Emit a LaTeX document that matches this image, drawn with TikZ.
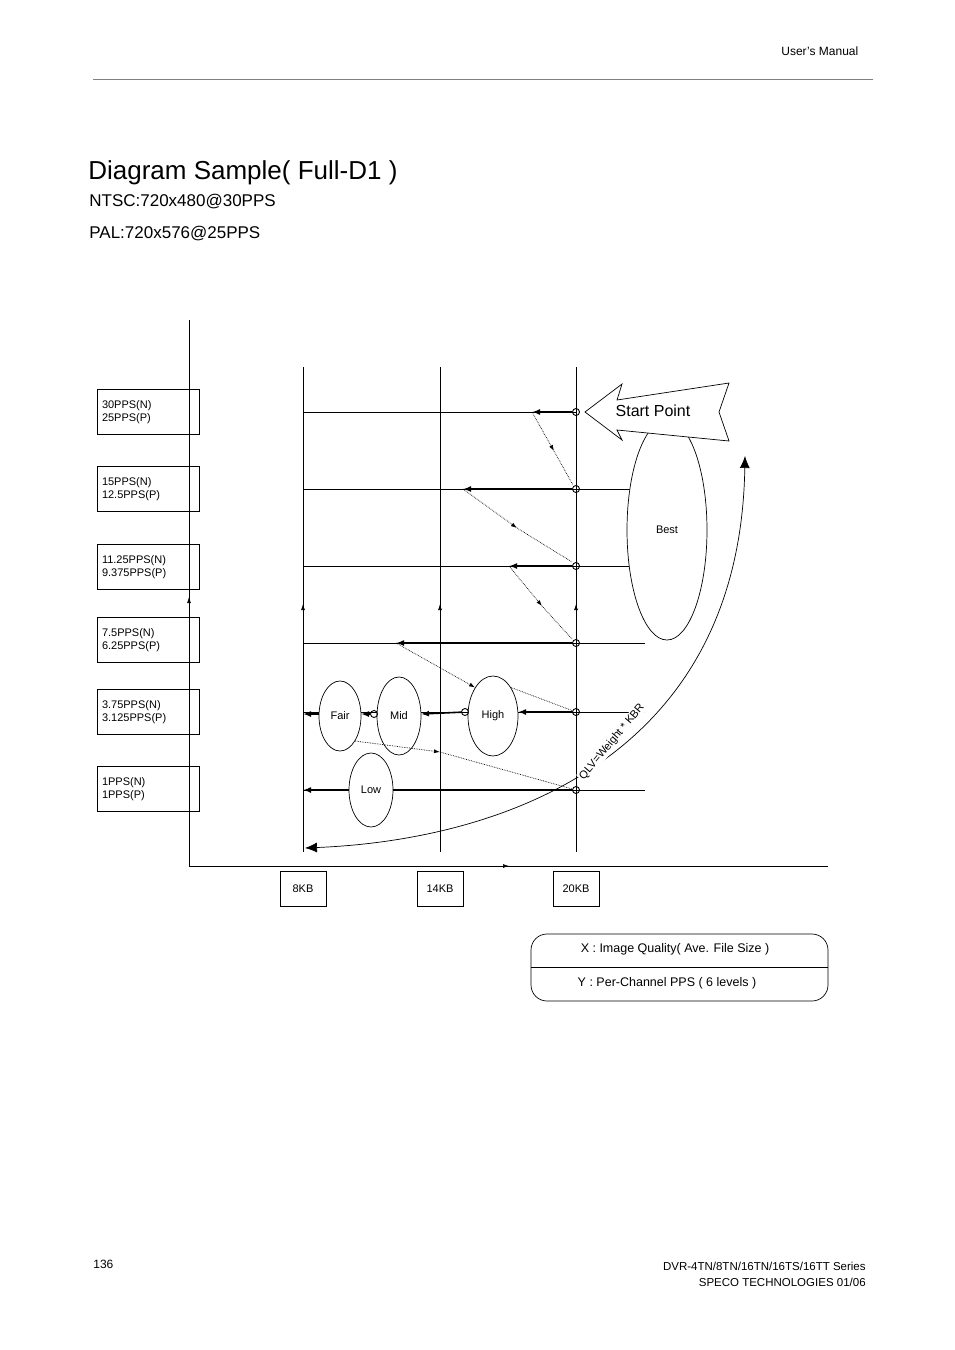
\documentclass[tikz,border=0pt]{standalone}
\usepackage{fontspec}
\setmainfont{Liberation Sans}
\usetikzlibrary{arrows.meta,shapes.geometric}
\begin{document}
\begin{tikzpicture}[x=1pt,y=-1pt,line width=0.7pt,
  lbl/.style={draw,minimum width=102pt,minimum height=45pt,align=left,text width=92pt,font=\fontsize{11}{13.5}\selectfont,inner sep=4pt},
  kb/.style={draw,minimum width=46pt,minimum height=35pt,font=\fontsize{11}{13}\selectfont},
  ell/.style={draw,ellipse,font=\fontsize{11}{13}\selectfont,inner sep=0pt},
  thick arr/.style={line width=1.6pt,-{Latex[length=8pt,width=6pt]}},
  dotarr/.style={densely dotted,-{Latex[length=6pt,width=4pt]}},
  dot/.style={draw,circle,minimum size=7pt,inner sep=0pt,line width=0.9pt}]
\useasboundingbox (0,0) rectangle (954,1350);
\node[anchor=east,font=\fontsize{12}{14}\selectfont] (hdr) at (862,51) {User’s Manual};
\draw[gray] (93,79) -- (873,79);
\node[anchor=west,font=\fontsize{26}{30}\selectfont,inner sep=0] (t) at (88,173) {Diagram Sample( Full-D1 )};
\node[anchor=west,font=\fontsize{17}{20}\selectfont,inner sep=0] (n) at (89,202) {NTSC:720x480@30PPS};
\node[anchor=west,font=\fontsize{17}{20}\selectfont,inner sep=0] (p) at (89,234) {PAL:720x576@25PPS};
% axes
\draw (189,320) -- (189,866) -- (828,866);
\draw[-{Latex[length=6pt,width=4pt]}] (189,610) -- (189,597);
\draw[-{Latex[length=6pt,width=4pt]}] (495,866) -- (509,866);
% labels
\node[lbl] (l1) at (148,412) {30PPS(N)\\25PPS(P)};
\node[lbl] (l2) at (148,489) {15PPS(N)\\12.5PPS(P)};
\node[lbl] (l3) at (148,567) {11.25PPS(N)\\9.375PPS(P)};
\node[lbl] (l4) at (148,640) {7.5PPS(N)\\6.25PPS(P)};
\node[lbl] (l5) at (148,712) {3.75PPS(N)\\3.125PPS(P)};
\node[lbl] (l6) at (148,789) {1PPS(N)\\1PPS(P)};
% vertical lines
\foreach \x in {303,440,576}{
  \draw (\x,367) -- (\x,852);
  \draw[-{Latex[length=6pt,width=4pt]}] (\x,615) -- (\x,604);}
% horizontal lines
\draw (303,412) -- (576,412);
\foreach \y in {489,566,643,712,790}{\draw (303,\y) -- (645,\y);}
% ellipses
\node[ell,fill=white,minimum width=80pt,minimum height=220pt] (best) at (667,530) {Best};
\node[ell,fill=white,minimum width=50pt,minimum height=80pt] (high) at (493,716) {High};
\node[ell,fill=white,minimum width=44pt,minimum height=78pt] (mid) at (399,716) {Mid};
\node[ell,fill=white,minimum width=42pt,minimum height=70pt] (fair) at (340,716) {Fair};
\node[ell,fill=white,minimum width=44pt,minimum height=74pt] (low) at (371,790) {Low};
% dots
\foreach \y/\n in {412/d1,489/d2,566/d3,643/d4,712/d5,790/d6}{\node[dot] (\n) at (576,\y) {};}
\node[dot] (hl) at (465,712) {};
\node[dot] (mr) at (374,714) {};
% thick arrows
\coordinate (a1) at (532,412); \coordinate (a2) at (463,489);
\coordinate (a3) at (509,566); \coordinate (a4) at (396,643);
\coordinate (a6) at (303,790); \coordinate (fl) at (303,714);
\coordinate (he) at (518,712); \coordinate (me) at (421,714);
\coordinate (fe) at (361,714); \coordinate (fw) at (319,714);
\draw[thick arr] (d1) -- (a1);
\draw[thick arr] (d2) -- (a2);
\draw[thick arr] (d3) -- (a3);
\draw[thick arr] (d4) -- (a4);
\draw[thick arr] (d5) -- (he);
\draw[thick arr] (hl) -- (me);
\draw[thick arr] (mr) -- (fe);
\draw[thick arr] (fw) -- (fl);
\draw[line width=1.6pt] (d6) -- (low.east);
\draw[thick arr] (low.west) -- (a6);
% dotted paths
\draw[dotarr] (a1) -- (554,451); \draw[densely dotted] (554,451) -- (573,485);
\draw[dotarr] (a2) -- (517,528); \draw[densely dotted] (517,528) -- (572,562);
\draw[dotarr] (a3) -- (542,606); \draw[densely dotted] (542,606) -- (572,639);
\draw[dotarr] (a4) -- (high.north west);
\draw[densely dotted] (high.north east) -- (d5);
\draw[dotarr] (fair.south east) -- (440,752); \draw[densely dotted] (440,752) -- (d6);
% start point
\draw[fill=white] (585,412) -- (622,384) -- (617,400) -- (729,383) -- (719,412) -- (729,441) -- (617,430) -- (622,440) -- cycle;
\node[font=\fontsize{16}{18}\selectfont] (sp) at (653,411) {Start Point};
% big curve
\coordinate (ce) at (745,456);
\coordinate (cs) at (305,848);
\draw[{Latex[length=12pt,width=10pt]}-{Latex[length=12pt,width=10pt]}] (cs) .. controls (500,840) and (740,760) .. (ce);
\node[rotate=50,fill=white,inner sep=1pt,font=\fontsize{11}{13}\selectfont] (q) at (612,742) {QLV=Weight * KBR};
% kb boxes
\node[kb] (k1) at (303,889) {8KB};
\node[kb] (k2) at (440,889) {14KB};
\node[kb] (k3) at (576,889) {20KB};
% legend
\draw[rounded corners=16pt] (531,934) rectangle (828,1001);
\draw (531,967) -- (828,967);
\node[font=\fontsize{12.5}{15}\selectfont] (x) at (675,949) {X : Image Quality( Ave. File Size )};
\node[font=\fontsize{12.5}{15}\selectfont] (y) at (667,983) {Y : Per-Channel PPS ( 6 levels )};
% footer
\node[anchor=west,font=\fontsize{12}{14}\selectfont,inner sep=0] (pg) at (93,1264) {136};
\node[anchor=east,align=right,font=\fontsize{11.5}{16}\selectfont,inner sep=0] (ft) at (866,1274) {DVR-4TN/8TN/16TN/16TS/16TT Series\\SPECO TECHNOLOGIES 01/06};
\end{tikzpicture}
\end{document}
